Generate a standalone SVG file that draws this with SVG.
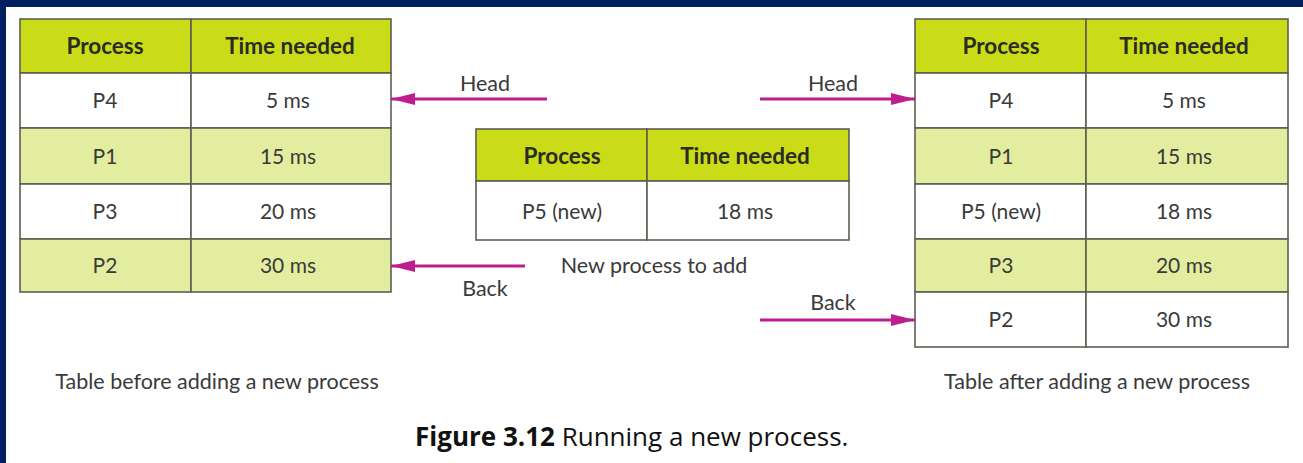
<svg xmlns="http://www.w3.org/2000/svg" width="1303" height="463" viewBox="0 0 1303 463">
<style>
.hd{fill:#c9dc17;stroke:#5e5e52;stroke-width:1.6}
.lt{fill:#e3eda0;stroke:#5e5e52;stroke-width:1.6}
.wh{fill:#ffffff;stroke:#5e5e52;stroke-width:1.6}
.th{font-family:Lato,"Liberation Sans",sans-serif;font-weight:bold;font-size:22.5px;fill:#2b2b24;text-anchor:middle}
.td{font-family:Lato,"Liberation Sans",sans-serif;font-size:21px;fill:#3a3a3a;text-anchor:middle}
.lb{font-family:Lato,"Liberation Sans",sans-serif;font-size:21.5px;fill:#3a3a3a;text-anchor:middle}
.cap{font-family:"Open Sans","Liberation Sans",sans-serif;font-size:26px;fill:#111111}
.ar{stroke:#bd1d8e;stroke-width:3;fill:none;marker-end:url(#ah)}
</style>
<defs>
<marker id="ah" markerUnits="userSpaceOnUse" markerWidth="26" markerHeight="14" refX="24" refY="7" orient="auto">
<path d="M0,1 L24,7 L0,13 Z" fill="#bd1d8e"/>
</marker>
</defs>
<rect x="0" y="0" width="1303" height="463" fill="#002060"/>
<rect x="6" y="7" width="1297" height="456" fill="#ffffff"/>

<g id="table-before">
<rect class="hd" x="20" y="19" width="171" height="54"/><rect class="hd" x="191" y="19" width="200" height="54"/>
<rect class="wh" x="20" y="73" width="171" height="55"/><rect class="wh" x="191" y="73" width="200" height="55"/>
<rect class="lt" x="20" y="128" width="171" height="56"/><rect class="lt" x="191" y="128" width="200" height="56"/>
<rect class="wh" x="20" y="184" width="171" height="55"/><rect class="wh" x="191" y="184" width="200" height="55"/>
<rect class="lt" x="20" y="239" width="171" height="53"/><rect class="lt" x="191" y="239" width="200" height="53"/>
<text class="th" x="105" y="54">Process</text><text class="th" x="290" y="54">Time needed</text>
<text class="td" x="105" y="108">P4</text><text class="td" x="288" y="108">5 ms</text>
<text class="td" x="105" y="164">P1</text><text class="td" x="288" y="164">15 ms</text>
<text class="td" x="105" y="219">P3</text><text class="td" x="288" y="219">20 ms</text>
<text class="td" x="105" y="273">P2</text><text class="td" x="288" y="273">30 ms</text>
<text class="lb" x="217" y="389">Table before adding a new process</text>
</g>

<g id="table-new">
<rect class="hd" x="476" y="129" width="171" height="52"/><rect class="hd" x="647" y="129" width="202" height="52"/>
<rect class="wh" x="476" y="181" width="171" height="59"/><rect class="wh" x="647" y="181" width="202" height="59"/>
<text class="th" x="562" y="164">Process</text><text class="th" x="745" y="164">Time needed</text>
<text class="td" x="562" y="219">P5 (new)</text><text class="td" x="745" y="219">18 ms</text>
<text class="lb" x="654" y="273">New process to add</text>
</g>

<g id="table-after">
<rect class="hd" x="915" y="19" width="171" height="54"/><rect class="hd" x="1086" y="19" width="202" height="54"/>
<rect class="wh" x="915" y="73" width="171" height="55"/><rect class="wh" x="1086" y="73" width="202" height="55"/>
<rect class="lt" x="915" y="128" width="171" height="56"/><rect class="lt" x="1086" y="128" width="202" height="56"/>
<rect class="wh" x="915" y="184" width="171" height="55"/><rect class="wh" x="1086" y="184" width="202" height="55"/>
<rect class="lt" x="915" y="239" width="171" height="53"/><rect class="lt" x="1086" y="239" width="202" height="53"/>
<rect class="wh" x="915" y="292" width="171" height="55"/><rect class="wh" x="1086" y="292" width="202" height="55"/>
<text class="th" x="1001" y="54">Process</text><text class="th" x="1184" y="54">Time needed</text>
<text class="td" x="1001" y="108">P4</text><text class="td" x="1184" y="108">5 ms</text>
<text class="td" x="1001" y="164">P1</text><text class="td" x="1184" y="164">15 ms</text>
<text class="td" x="1001" y="219">P5 (new)</text><text class="td" x="1184" y="219">18 ms</text>
<text class="td" x="1001" y="273">P3</text><text class="td" x="1184" y="273">20 ms</text>
<text class="td" x="1001" y="327">P2</text><text class="td" x="1184" y="327">30 ms</text>
<text class="lb" x="1097" y="389">Table after adding a new process</text>
</g>

<g id="connectors">
<line class="ar" x1="547" y1="99" x2="391" y2="99"/>
<line class="ar" x1="525" y1="266" x2="391" y2="266"/>
<line class="ar" x1="760" y1="99" x2="915" y2="99"/>
<line class="ar" x1="760" y1="320" x2="915" y2="320"/>
<text class="lb" x="485" y="91">Head</text>
<text class="lb" x="485" y="296">Back</text>
<text class="lb" x="833" y="91">Head</text>
<text class="lb" x="833" y="310">Back</text>
</g>

<text class="cap" x="415" y="446"><tspan font-weight="bold">Figure 3.12</tspan> Running a new process.</text>
</svg>
